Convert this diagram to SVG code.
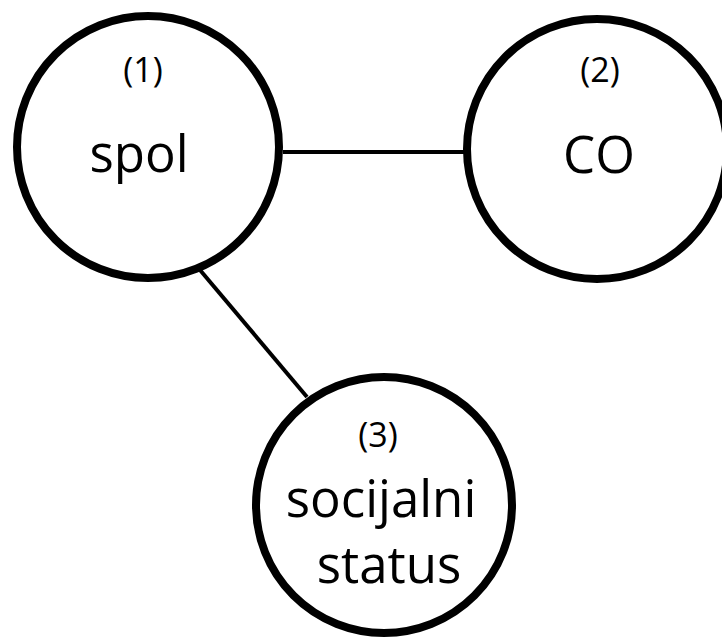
<svg xmlns="http://www.w3.org/2000/svg" width="722" height="638" viewBox="0 0 722 638">
  <style>
    .node { fill: #fff; stroke: #000; stroke-width: 8; }
    .edge { stroke: #000; stroke-width: 4; fill: none; }
    .num { font-family: "Open Sans", "Noto Sans", sans-serif; font-size: 34px; text-anchor: middle; fill: #000; }
    .lbl { font-family: "Open Sans", "Noto Sans", sans-serif; font-size: 51px; text-anchor: middle; fill: #000; }
  </style>
  <rect width="722" height="638" fill="#fff"/>
  <g id="connectors">
    <line class="edge" x1="283" y1="152" x2="465" y2="152"/>
    <line class="edge" x1="200" y1="270" x2="307" y2="397"/>
  </g>
  <g id="node-spol">
    <circle class="node" cx="148" cy="147" r="131"/>
    <text class="num" x="143" y="82">(1)</text>
    <text class="lbl" x="139" y="172">spol</text>
  </g>
  <g id="node-co">
    <circle class="node" cx="597" cy="149" r="130"/>
    <text class="num" x="600" y="82">(2)</text>
    <text class="lbl" x="599" y="173">CO</text>
  </g>
  <g id="node-status">
    <circle class="node" cx="384" cy="505" r="128"/>
    <text class="num" x="378" y="447">(3)</text>
    <text class="lbl" x="381" y="517">socijalni</text>
    <text class="lbl" x="389" y="583">status</text>
  </g>
</svg>
